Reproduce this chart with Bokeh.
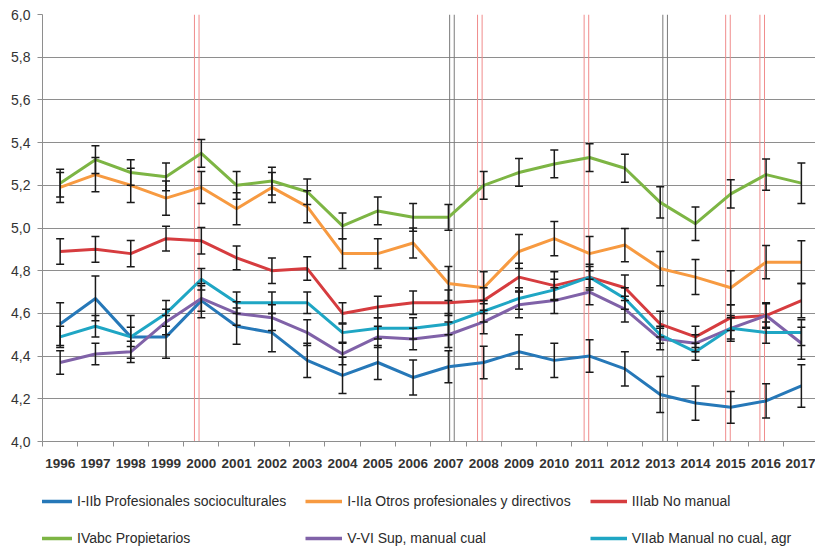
from bokeh.plotting import figure
from bokeh.layouts import column
from bokeh.models import (ColumnDataSource, Whisker, TeeHead, Span, FixedTicker,
                          CustomJSTickFormatter, Legend, LegendItem)
from bokeh.embed import file_html
from bokeh.resources import INLINE

years = list(range(1996, 2018))

series_names = [
    "I-IIb Profesionales socioculturales",
    "I-IIa Otros profesionales y directivos",
    "IIIab No manual",
    "IVabc Propietarios",
    "V-VI Sup, manual cual",
    "VIIab Manual no cual, agr",
]

i_iib = [4.55, 4.67, 4.49, 4.49, 4.66, 4.54, 4.51, 4.38, 4.31, 4.37, 4.30,
         4.35, 4.37, 4.42, 4.38, 4.40, 4.34, 4.22, 4.18, 4.16, 4.19, 4.26]
i_iia = [5.19, 5.25, 5.20, 5.14, 5.19, 5.09, 5.19, 5.10, 4.88, 4.88, 4.93,
         4.74, 4.72, 4.89, 4.95, 4.88, 4.92, 4.81, 4.77, 4.72, 4.84, 4.84]
iiiab = [4.89, 4.90, 4.88, 4.95, 4.94, 4.86, 4.80, 4.81, 4.60, 4.63, 4.65,
         4.65, 4.66, 4.77, 4.73, 4.77, 4.72, 4.55, 4.49, 4.58, 4.59, 4.66]
ivabc = [5.21, 5.32, 5.26, 5.24, 5.35, 5.20, 5.22, 5.17, 5.01, 5.08, 5.05,
         5.05, 5.20, 5.26, 5.30, 5.33, 5.28, 5.12, 5.02, 5.16, 5.25, 5.21]
v_vi = [4.37, 4.41, 4.42, 4.56, 4.67, 4.60, 4.58, 4.51, 4.41, 4.49, 4.48,
        4.50, 4.56, 4.64, 4.66, 4.70, 4.62, 4.48, 4.46, 4.53, 4.59, 4.46]
viiab = [4.49, 4.54, 4.49, 4.60, 4.76, 4.65, 4.65, 4.65, 4.51, 4.53, 4.53,
         4.55, 4.61, 4.67, 4.71, 4.77, 4.67, 4.50, 4.42, 4.53, 4.51, 4.51]

err_i_iib = [0.10, 0.105, 0.10, 0.10, 0.08, 0.085, 0.09, 0.08, 0.085, 0.08, 0.082,
             0.075, 0.076, 0.08, 0.08, 0.076, 0.08, 0.084, 0.08, 0.074, 0.08, 0.10]
err_i_iia = [0.07, 0.08, 0.08, 0.08, 0.075, 0.075, 0.07, 0.075, 0.07, 0.07, 0.07,
             0.08, 0.075, 0.08, 0.08, 0.08, 0.078, 0.08, 0.082, 0.08, 0.078, 0.10]
err_iiiab = [0.06, 0.06, 0.062, 0.058, 0.062, 0.056, 0.06, 0.055, 0.05, 0.05, 0.055,
             0.06, 0.06, 0.065, 0.065, 0.06, 0.06, 0.06, 0.05, 0.06, 0.055, 0.08]
err_ivabc = [0.065, 0.065, 0.06, 0.065, 0.065, 0.065, 0.065, 0.06, 0.06, 0.065, 0.065,
             0.06, 0.065, 0.065, 0.065, 0.065, 0.066, 0.073, 0.078, 0.066, 0.073, 0.095]
err_v_vi = [0.055, 0.05, 0.05, 0.06, 0.06, 0.055, 0.06, 0.06, 0.05, 0.05, 0.05,
            0.06, 0.055, 0.06, 0.06, 0.06, 0.06, 0.05, 0.04, 0.06, 0.06, 0.075]
err_viiab = [0.05, 0.05, 0.045, 0.06, 0.05, 0.05, 0.05, 0.05, 0.045, 0.05, 0.05,
             0.05, 0.05, 0.05, 0.05, 0.05, 0.05, 0.04, 0.04, 0.05, 0.05, 0.06]

y_ticks = [4.0, 4.2, 4.4, 4.6, 4.8, 5.0, 5.2, 5.4, 5.6, 5.8, 6.0]

# reference marks (years) drawn as double vertical lines
red_marks = [1999.87, 2007.89, 2010.91, 2014.92, 2015.89]
gray_marks = [2007.1, 2013.14]

values = [i_iib, i_iia, iiiab, ivabc, v_vi, viiab]
errors = [err_i_iib, err_i_iia, err_iiiab, err_ivabc, err_v_vi, err_viiab]
colors = ["#2678b8", "#f79a41", "#d63c3f", "#7db544", "#8062a8", "#1fa6c4"]

p = figure(width=815, height=476, output_backend="svg", toolbar_location=None,
           x_range=(1995.5, 2017.4), y_range=(4.0, 6.0),
           min_border_left=42, min_border_right=0, min_border_top=14,
           min_border_bottom=35)
p.outline_line_color = None
p.background_fill_color = "white"
p.border_fill_color = "white"

p.xgrid.grid_line_color = None
p.ygrid.grid_line_color = "#8e8e8e"
p.ygrid.grid_line_width = 1

p.xaxis.ticker = FixedTicker(ticks=years,
                             minor_ticks=[y - 0.5 for y in years] + [years[-1] + 0.5])
p.xaxis.major_tick_out = 0
p.xaxis.major_tick_in = 0
p.xaxis.minor_tick_out = 5
p.xaxis.minor_tick_in = 0
p.xaxis.minor_tick_line_color = "#8e8e8e"
p.xaxis.axis_line_color = "#8e8e8e"
p.xaxis.major_label_standoff = 12
p.xaxis.major_label_text_font = "Liberation Sans"
p.xaxis.major_label_text_font_style = "bold"
p.xaxis.major_label_text_font_size = "13.5px"
p.xaxis.major_label_text_color = "#333333"

p.yaxis.ticker = FixedTicker(ticks=y_ticks)
p.yaxis.formatter = CustomJSTickFormatter(code="return tick.toFixed(1).replace('.', ',');")
p.yaxis.major_tick_out = 5
p.yaxis.major_tick_in = 0
p.yaxis.minor_tick_line_color = None
p.yaxis.major_tick_line_color = "#8e8e8e"
p.yaxis.axis_line_color = "#8e8e8e"
p.yaxis.major_label_standoff = 7
p.yaxis.major_label_text_font = "Liberation Sans"
p.yaxis.major_label_text_font_size = "14px"
p.yaxis.major_label_text_color = "#333333"

for m in red_marks:
    for off in (-0.065, 0.065):
        p.add_layout(Span(location=m + off, dimension="height", line_color="#f08c8c",
                          line_width=1, level="underlay"))
for m in gray_marks:
    for off in (-0.065, 0.065):
        p.add_layout(Span(location=m + off, dimension="height", line_color="#7a7a7a",
                          line_width=1, level="underlay"))

for vals, col in zip(values, colors):
    p.line(years, vals, line_width=3, line_color=col, line_join="round")

for vals, errs in zip(values, errors):
    src = ColumnDataSource(dict(x=years,
                                lower=[v - e for v, e in zip(vals, errs)],
                                upper=[v + e for v, e in zip(vals, errs)]))
    w = Whisker(base="x", lower="lower", upper="upper", source=src,
                line_color="#1a1a1a", line_width=1.5, level="annotation",
                upper_head=TeeHead(size=8, line_color="#1a1a1a", line_width=1.5),
                lower_head=TeeHead(size=8, line_color="#1a1a1a", line_width=1.5))
    p.add_layout(w)

# legend strip below the chart (its frame is aligned with the chart's frame)
lg = figure(width=815, height=74, output_backend="svg", toolbar_location=None,
            x_range=(0, 1), y_range=(0, 1), min_border=0,
            x_axis_location=None, y_axis_location=None)
lg.grid.visible = False
lg.outline_line_color = None
items = []
for name, col in zip(series_names, colors):
    # legend sample only; kept outside the visible range
    r = lg.line([-2, -1], [-2, -1], line_width=3.5, line_color=col)
    items.append(LegendItem(label=name, renderers=[r]))
legend = Legend(items=items, orientation="horizontal", ncols=3,
                location=(-7, 3), glyph_width=37, glyph_height=18,
                label_height=18, label_standoff=5, spacing=19, padding=0, margin=0,
                label_text_font="Liberation Sans", label_text_font_size="14px",
                label_text_color="#2b2b2b", border_line_color=None,
                background_fill_alpha=0)
lg.add_layout(legend, "center")

layout = column(p, lg, spacing=0)
open("out.html", "w").write(file_html(layout, INLINE))
